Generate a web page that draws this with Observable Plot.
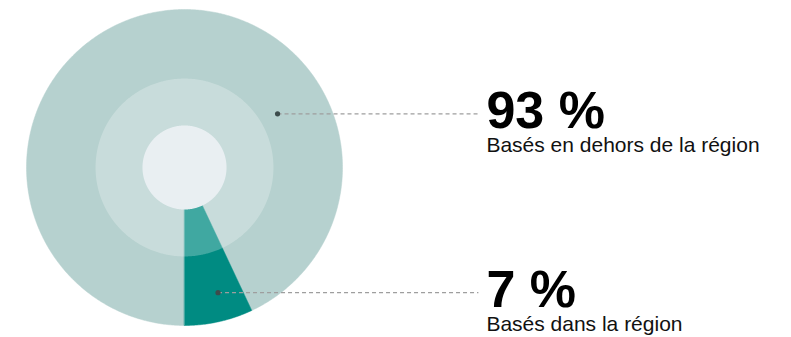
<!DOCTYPE html>
<html>
<head>
<meta charset="utf-8">
<script src="https://cdn.jsdelivr.net/npm/d3@7"></script>
<script src="https://cdn.jsdelivr.net/npm/@observablehq/plot@0.6"></script>
<style>
  html, body { margin: 0; padding: 0; background: #fff; }
  #chart svg { display: block; }
</style>
</head>
<body>
<div id="chart"></div>
<script>
// ---- data ----
const categories = ["Basés en dehors de la région", "Basés dans la région"];
const values = [93, 7];
const valueLabels = ["93 %", "7 %"];
const sliceColors = ["#b6d1cf", "#008b82"];
// anchor of each leader line inside the pie (angle in degrees clockwise from top, radius as share of pie)
const anchorAngles = [60, 165];
const anchorRadii = [0.68, 0.82];

// ---- geometry derived from data ----
const pie = d3.pie().sort(null).startAngle(Math.PI).endAngle(3 * Math.PI)(values);
const pt = (a, r) => ({x: r * Math.sin(a), y: r * Math.cos(a)});

const slicePts = [];
pie.forEach((s, i) => {
  const n = Math.max(8, Math.ceil((s.endAngle - s.startAngle) / 0.01));
  slicePts.push({...pt(0, 0), k: i});
  for (let j = 0; j <= n; j++) {
    const a = s.startAngle + (s.endAngle - s.startAngle) * j / n;
    slicePts.push({...pt(a, 1), k: i});
  }
});

function circle(r, k) {
  const out = [];
  for (let j = 0; j < 720; j++) out.push({...pt(j / 720 * 2 * Math.PI, r), k});
  return out;
}
const midRing = circle(0.563, "mid");
const hole = circle(0.266, "hole");

const lineEndX = 1.86;
const leaders = categories.map((c, i) => {
  const p = pt(anchorAngles[i] * Math.PI / 180, anchorRadii[i]);
  return {x1: p.x, y1: p.y, x2: lineEndX, y2: p.y, cat: c, val: valueLabels[i]};
});

const font = "Helvetica, Arial, 'Liberation Sans', sans-serif";

const chart = Plot.plot({
  width: 791,
  height: 337,
  marginLeft: 26,
  marginRight: 449,
  marginTop: 9,
  marginBottom: 12,
  x: {domain: [-1, 1], axis: null},
  y: {domain: [-1, 1], axis: null},
  style: {fontFamily: font, background: "#fff"},
  marks: [
    Plot.line(slicePts, {x: "x", y: "y", z: "k", curve: "linear-closed",
      fill: d => sliceColors[d.k], stroke: d => sliceColors[d.k], strokeWidth: 0.5}),
    Plot.line(midRing, {x: "x", y: "y", curve: "linear-closed", fill: "#fff", fillOpacity: 0.25, stroke: "none"}),
    Plot.line(hole, {x: "x", y: "y", curve: "linear-closed", fill: "#e9eff2", stroke: "none"}),
    Plot.link(leaders, {x1: "x1", y1: "y1", x2: "x2", y2: "y2", stroke: "#9e9e9e", strokeWidth: 1.3, strokeDasharray: "4,3"}),
    Plot.dot(leaders, {x: "x1", y: "y1", r: 2.6, fill: "#3d4c4c", stroke: "none"}),
    Plot.text(leaders, {x: "x2", y: "y2", text: "val", textAnchor: "start", lineAnchor: "bottom",
      dx: 8, dy: 14, fontSize: 52, fontWeight: "bold", fill: "#000"}),
    Plot.text(leaders, {x: "x2", y: "y2", text: "cat", textAnchor: "start", lineAnchor: "bottom",
      dx: 8, dy: 38, fontSize: 21, fill: "#111"})
  ]
});
document.getElementById("chart").appendChild(chart);
</script>
</body>
</html>
